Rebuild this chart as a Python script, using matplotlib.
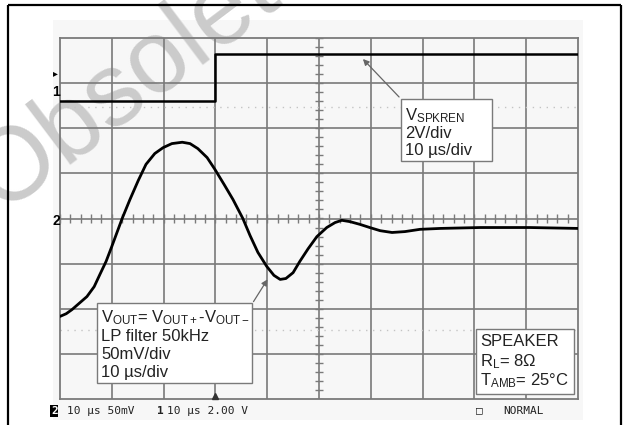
import matplotlib
matplotlib.use("Agg")
import matplotlib.pyplot as plt
from matplotlib.patches import Rectangle, FancyArrowPatch
from matplotlib.transforms import Affine2D
import numpy as np

plt.rcParams['font.family'] = ['Liberation Sans', 'DejaVu Sans']
plt.rcParams['mathtext.fontset'] = 'custom'
plt.rcParams['mathtext.rm'] = 'Liberation Sans'
plt.rcParams['mathtext.it'] = 'Liberation Sans:italic'

# channel 1: V_SPKREN step (divisions, 2 V/div)
ch1_t = [0.0, 3.0, 3.0, 10.0]
ch1_v = [2.61, 2.61, 3.64, 3.64]

# channel 2: V_OUT (divisions, 50 mV/div, 10 us/div)
ch2_t = [0.00, 0.12, 0.23, 0.39, 0.52, 0.66, 0.77, 0.89, 1.00, 1.10, 1.20,
         1.35, 1.51, 1.66, 1.83, 1.99, 2.16, 2.36, 2.51, 2.66, 2.84, 2.99,
         3.17, 3.34, 3.53, 3.67, 3.82, 3.99, 4.13, 4.25, 4.36, 4.50, 4.63,
         4.79, 4.96, 5.15, 5.31, 5.44, 5.60, 5.79, 5.98, 6.18, 6.41, 6.66,
         6.95, 7.34, 8.11, 9.07, 10.0]
ch2_v = [-2.17, -2.11, -2.02, -1.86, -1.73, -1.51, -1.24, -0.95, -0.62, -0.31, 0.0,
         0.42, 0.84, 1.20, 1.44, 1.57, 1.66, 1.69, 1.66, 1.55, 1.35, 1.09,
         0.75, 0.42, 0.0, -0.38, -0.75, -1.06, -1.26, -1.35, -1.33, -1.20, -0.95,
         -0.67, -0.40, -0.20, -0.09, -0.04, -0.07, -0.13, -0.20, -0.27, -0.31, -0.29,
         -0.24, -0.22, -0.20, -0.20, -0.22]

ref_levels = [2.46, -2.48]

W, H = 623, 425
fig = plt.figure(figsize=(W / 100, H / 100), dpi=100)
# pixel coords, origin top-left
T = Affine2D().scale(1 / W, -1 / H).translate(0, 1) + fig.transFigure

# watermark behind everything
fig.text(148, 68, "Obsolete", transform=T, fontsize=74, color='#cbcbcb',
         rotation=37, ha='center', va='center', zorder=-5)

# faint screen background
fig.add_artist(Rectangle((53, 20), 530, 400, transform=T, facecolor='#f7f7f7',
                         edgecolor='none', zorder=-10))

ax = fig.add_axes([60 / W, (H - 399) / H, 518 / W, 361 / H])
ax.patch.set_alpha(0)
ax.set_xlim(0, 10)
ax.set_ylim(-4, 4)
ax.set_xticks([])
ax.set_yticks([])
for s in ax.spines.values():
    s.set_color('#7a7a7a')
    s.set_linewidth(1.3)

grid_c = '#7a7a7a'
for x in range(1, 10):
    ax.axvline(x, color=grid_c, lw=1.2, zorder=1)
for y in range(-3, 4):
    ax.axhline(y, color=grid_c, lw=1.2, zorder=1)

# minor ticks on the centre axes
minor = np.arange(0, 10.01, 0.2)
ax.vlines(minor, -0.09, 0.09, color=grid_c, lw=1.0, zorder=1)
minor_y = np.arange(-4, 4.01, 0.2)
ax.hlines(minor_y, 4.92, 5.08, color=grid_c, lw=1.0, zorder=1)

for lv in ref_levels:
    ax.axhline(lv, color='#c4c4c4', lw=1.0, ls=(0, (1, 4)), zorder=1)

ax.plot(ch1_t, ch1_v, color='black', lw=1.8, zorder=3)
ax.plot(ch2_t, ch2_v, color='black', lw=2.0, zorder=3, solid_capstyle='round')

# trigger marker at bottom
ax.plot([3.0], [-3.93], marker='^', ms=4, color='#333333', clip_on=False, zorder=4)

# channel markers on the left
fig.text(55, 73, "\u25b8", transform=T, fontsize=7, ha='center', va='center')
fig.text(56, 92, "1", transform=T, fontsize=10, fontweight='bold', ha='center', va='center')
fig.text(56, 221, "2", transform=T, fontsize=10, fontweight='bold', ha='center', va='center')

# annotation boxes
box_kw = dict(transform=T, facecolor='white', edgecolor='#7a7a7a', lw=1.0, zorder=6)
fig.add_artist(Rectangle((401, 99), 91, 62, **box_kw))
fig.add_artist(Rectangle((97, 303), 155, 80, **box_kw))
fig.add_artist(Rectangle((476, 329), 98, 65, **box_kw))

txt_kw = dict(transform=T, fontsize=12, color='#222222', va='center', ha='left', zorder=7)
fig.text(405, 116, r'$\mathrm{V_{SPKREN}}$', **txt_kw)
fig.text(405, 133, "2V/div", **txt_kw)
fig.text(405, 150, "10 \u00b5s/div", **txt_kw)

fig.text(101, 318, r'$\mathrm{V_{OUT}}$= $\mathrm{V_{OUT+}}$-$\mathrm{V_{OUT-}}$', **txt_kw)
fig.text(101, 337, "LP filter 50kHz", **txt_kw)
fig.text(101, 355, "50mV/div", **txt_kw)
fig.text(101, 373, "10 \u00b5s/div", **txt_kw)

fig.text(480, 342, "SPEAKER", **txt_kw)
fig.text(480, 362, r'$\mathrm{R_L}$= 8' + '\u03a9', **txt_kw)
fig.text(480, 381, r'$\mathrm{T_{AMB}}$= 25' + '\u00b0C', **txt_kw)

arr_kw = dict(transform=T, arrowstyle='-|>', mutation_scale=9, color='#666666',
              lw=0.9, zorder=6)
fig.add_artist(FancyArrowPatch((401, 99), (361, 57), **arr_kw))
fig.add_artist(FancyArrowPatch((252, 304), (269, 277), **arr_kw))

# status line
mono = dict(transform=T, family='DejaVu Sans Mono', fontsize=8, va='center', color='#222222')
fig.text(51, 411, "2", color='white', fontweight='bold',
         bbox=dict(boxstyle='square,pad=0.05', facecolor='black', edgecolor='none'),
         **{k: v for k, v in mono.items() if k != 'color'})
fig.text(67, 411, "10 \u00b5s 50mV", **mono)
fig.text(157, 411, "1", fontweight='bold', **mono)
fig.text(167, 411, "10 \u00b5s 2.00 V", **mono)
fig.text(476, 410, "\u25a1", **mono)
fig.text(503, 411, "NORMAL", **mono)

# outer frame
frame_kw = dict(transform=T, color='black', lw=1.6, solid_capstyle='butt')
fig.add_artist(plt.Line2D([8, 621], [5, 5], **frame_kw))
fig.add_artist(plt.Line2D([8, 8], [5, 425], **frame_kw))
fig.add_artist(plt.Line2D([621, 621], [5, 425], **frame_kw))

fig.savefig("out.png", dpi=100)
